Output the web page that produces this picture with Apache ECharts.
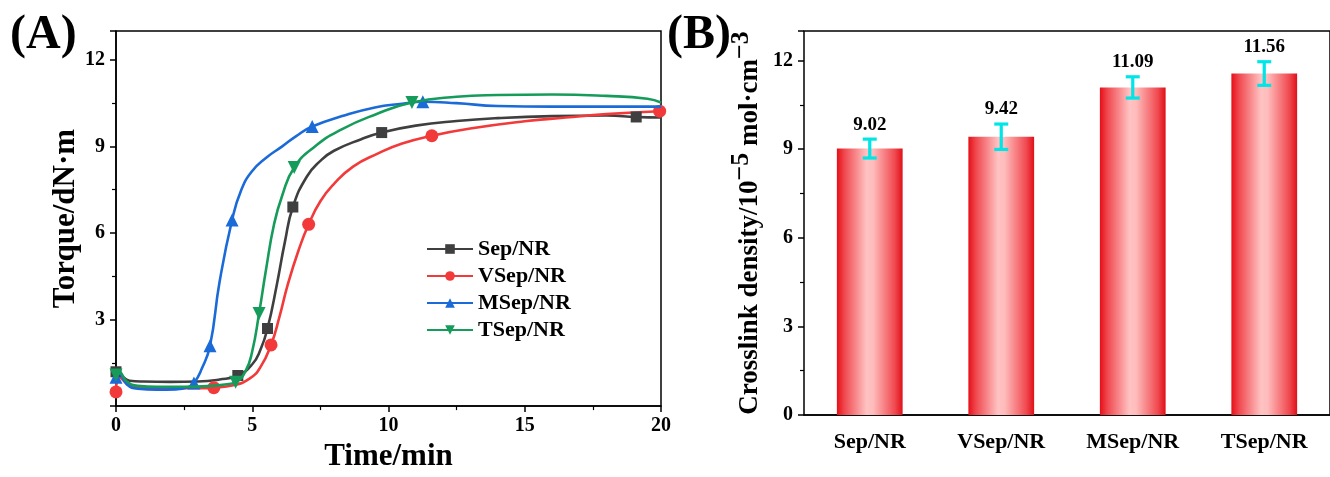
<!DOCTYPE html>
<html><head><meta charset="utf-8">
<script src="https://cdn.jsdelivr.net/npm/echarts@6/dist/echarts.min.js"></script>
<style>html,body{margin:0;padding:0;background:#fff}#c{width:1330px;height:477px}</style>
</head><body><div id="c"></div>
<script>
// ---- Panel A: torque curves ----
const sepX  = [0, 0.15, 0.5, 1, 2, 3, 3.8, 4.47, 5.0, 5.3, 5.56, 5.9, 6.2, 6.49, 7.0, 7.5, 8.0, 9.0, 9.75, 11, 12.5, 14, 16, 18, 19.09, 20];
const sepY  = [1.19, 1.1, 0.88, 0.85, 0.84, 0.85, 0.92, 1.06, 1.45, 1.95, 2.69, 4.2, 5.7, 6.9, 7.95, 8.5, 8.85, 9.25, 9.48, 9.72, 9.88, 9.98, 10.05, 10.07, 10.02, 10.0];
const sepMarks = [0, 7, 10, 13, 18, 24];

const vsepX = [0, 0.12, 0.5, 1, 2, 3, 3.59, 4.3, 4.9, 5.3, 5.69, 6.0, 6.3, 6.7, 7.07, 7.5, 8.0, 8.7, 9.6, 10.5, 11.59, 13, 15, 16.5, 18, 19.95];
const vsepY = [0.49, 1.0, 0.72, 0.63, 0.62, 0.62, 0.64, 0.72, 0.95, 1.35, 2.12, 3.1, 4.2, 5.4, 6.3, 7.1, 7.7, 8.3, 8.75, 9.1, 9.37, 9.62, 9.87, 10.0, 10.12, 10.22];
const vsepMarks = [0, 6, 10, 14, 20, 25];

const msepX = [0, 0.1, 0.4, 0.8, 1.5, 2.2, 2.6, 2.86, 3.15, 3.45, 3.8, 4.26, 4.6, 5.0, 5.5, 6.1, 6.6, 7.2, 8.3, 9.5, 10.5, 11.26, 12.5, 14, 16, 18, 20];
const msepY = [1.0, 1.15, 0.75, 0.6, 0.57, 0.58, 0.64, 0.8, 1.3, 2.09, 4.3, 6.45, 7.5, 8.15, 8.6, 9.0, 9.35, 9.69, 10.05, 10.35, 10.48, 10.55, 10.5, 10.4, 10.38, 10.38, 10.38];
const msepMarks = [0, 7, 9, 11, 17, 21];

const tsepX = [0, 0.1, 0.4, 0.8, 1.5, 2.5, 3.5, 4.0, 4.39, 4.75, 5.0, 5.25, 5.5, 5.8, 6.1, 6.54, 7.3, 8.3, 9.5, 10.86, 12.5, 14, 16, 18, 19.5, 20];
const tsepY = [1.08, 1.2, 0.85, 0.7, 0.67, 0.67, 0.7, 0.75, 0.83, 1.2, 1.9, 3.21, 4.7, 6.3, 7.3, 8.27, 9.0, 9.6, 10.1, 10.52, 10.72, 10.78, 10.8, 10.75, 10.65, 10.52];
const tsepMarks = [0, 8, 11, 15, 19];

const seriesNames = ['Sep/NR', 'VSep/NR', 'MSep/NR', 'TSep/NR'];
const xTickLabels = ['0', '5', '10', '15', '20'];

// ---- Panel B: crosslink density ----
const categories = ['Sep/NR', 'VSep/NR', 'MSep/NR', 'TSep/NR'];
const density    = [9.02, 9.42, 11.09, 11.56];
const densityErr = [0.32, 0.43, 0.36, 0.40];

const FONT = '"Liberation Serif","Times New Roman",serif';
const colors = ['#3f3f3f', '#f23a3a', '#1a6ad8', '#169c5a'];
const symbols = ['rect', 'circle', 'triangle', 'path://M0,0L10,0L5,9Z'];
const symSizes = [11, 13, 13, 13];

function mk(xs, ys) { return xs.map((x, i) => [x, ys[i]]); }
const lineData = [mk(sepX, sepY), mk(vsepX, vsepY), mk(msepX, msepY), mk(tsepX, tsepY)];
const marks = [sepMarks, vsepMarks, msepMarks, tsepMarks];

const lineSeries = lineData.map((d, k) => ({
  name: seriesNames[k], type: 'line', xAxisIndex: 0, yAxisIndex: 0,
  data: d, smooth: true, showAllSymbol: true,
  symbol: symbols[k],
  symbolSize: (v, p) => marks[k].includes(p.dataIndex) ? symSizes[k] : 0,
  lineStyle: { color: colors[k], width: 2.6 },
  itemStyle: { color: colors[k] },
  z: 2 + (k === 1 ? 0 : k)
}));

const chart = echarts.init(document.getElementById('c'), null, { renderer: 'canvas' });
chart.setOption({
  animation: false,
  backgroundColor: '#fff',
  textStyle: { fontFamily: FONT },
  graphic: [
    { type: 'text', left: 10, top: 12, style: { text: '(A)', font: 'bold 48px ' + FONT, fill: '#000' } },
    { type: 'text', left: 667, top: 12, style: { text: '(B)', font: 'bold 48px ' + FONT, fill: '#000' } }
  ],
  legend: {
    data: seriesNames, orient: 'vertical', left: 421, top: 233,
    itemWidth: 46, itemHeight: 12, itemGap: 5,
    textStyle: { fontFamily: FONT, fontWeight: 'bold', fontSize: 22, color: '#000' }
  },
  grid: [
    { left: 116, top: 31, width: 545, height: 385, show: true, borderColor: '#000', borderWidth: 1.5, containLabel: false },
    { left: 804, top: 31, width: 533, height: 384, show: true, borderColor: '#000', borderWidth: 1.5, containLabel: false }
  ],
  xAxis: [
    {
      gridIndex: 0, type: 'value', min: 0, max: 20, interval: 5,
      name: 'Time/min', nameLocation: 'middle', nameGap: 30,
      nameTextStyle: { fontFamily: FONT, fontWeight: 'bold', fontSize: 31, color: '#000' },
      axisLine: { lineStyle: { color: '#000', width: 1.5 } },
      axisTick: { show: true, length: 6, lineStyle: { color: '#000', width: 1.5 } },
      minorTick: { show: true, splitNumber: 2, length: 4, lineStyle: { color: '#000', width: 1.2 } },
      splitLine: { show: false },
      axisLabel: { margin: 10, fontFamily: FONT, fontWeight: 'bold', fontSize: 20, color: '#000',
        formatter: v => xTickLabels[Math.round(v / 5)] }
    },
    {
      gridIndex: 1, type: 'category', data: categories,
      axisLine: { lineStyle: { color: '#000', width: 1.5 } },
      axisTick: { show: false },
      axisLabel: { margin: 16, fontFamily: FONT, fontWeight: 'bold', fontSize: 22, color: '#000' }
    }
  ],
  yAxis: [
    {
      gridIndex: 0, type: 'value', min: 0, max: 13, interval: 3,
      name: 'Torque/dN·m', nameLocation: 'middle', nameGap: 35,
      nameTextStyle: { fontFamily: FONT, fontWeight: 'bold', fontSize: 31, color: '#000' },
      axisLine: { lineStyle: { color: '#000', width: 1.5 } },
      axisTick: { show: true, length: 6, lineStyle: { color: '#000', width: 1.5 } },
      minorTick: { show: true, splitNumber: 2, length: 4, lineStyle: { color: '#000', width: 1.2 } },
      splitLine: { show: false },
      axisLabel: { margin: 11, fontFamily: FONT, fontWeight: 'bold', fontSize: 20, color: '#000',
        showMaxLabel: false, formatter: v => (v === 0 ? '' : String(v)) }
    },
    {
      gridIndex: 1, type: 'value', min: 0, max: 13, interval: 3,
      name: '{b|Crosslink density/10}{s|−5}{b| mol·cm}{s|−3}', nameLocation: 'middle', nameGap: 40,
      nameTextStyle: {
        fontFamily: FONT, fontWeight: 'bold', fontSize: 27, color: '#000',
        rich: {
          b: { fontFamily: FONT, fontWeight: 'bold', fontSize: 27, color: '#000', verticalAlign: 'bottom' },
          s: { fontFamily: FONT, fontWeight: 'bold', fontSize: 26, color: '#000', verticalAlign: 'bottom', padding: [0, 0, 10, 0] }
        }
      },
      axisLine: { lineStyle: { color: '#000', width: 1.5 } },
      axisTick: { show: true, length: 6, lineStyle: { color: '#000', width: 1.5 } },
      minorTick: { show: true, splitNumber: 2, length: 4, lineStyle: { color: '#000', width: 1.2 } },
      splitLine: { show: false },
      axisLabel: { margin: 11, fontFamily: FONT, fontWeight: 'bold', fontSize: 20, color: '#000', showMaxLabel: false }
    }
  ],
  series: lineSeries.concat([
    {
      type: 'bar', xAxisIndex: 1, yAxisIndex: 1, data: density, barWidth: '50%',
      itemStyle: {
        color: new echarts.graphic.LinearGradient(0, 0, 1, 0, [
          { offset: 0, color: '#e60f18' },
          { offset: 0.12, color: '#f04a50' },
          { offset: 0.45, color: '#ffc2c2' },
          { offset: 0.55, color: '#ffbcbc' },
          { offset: 0.88, color: '#f04a50' },
          { offset: 1, color: '#e01018' }
        ])
      },
      z: 2
    },
    {
      type: 'custom', xAxisIndex: 1, yAxisIndex: 1,
      data: density.map((v, i) => [i, v - densityErr[i], v + densityErr[i], v]),
      renderItem: (params, api) => {
        const i = api.value(0);
        const lo = api.coord([i, api.value(1)]);
        const hi = api.coord([i, api.value(2)]);
        const w = 7;
        const st = { stroke: '#00e6e6', lineWidth: 3.2 };
        return {
          type: 'group',
          children: [
            { type: 'line', shape: { x1: lo[0], y1: lo[1], x2: hi[0], y2: hi[1] }, style: st },
            { type: 'line', shape: { x1: lo[0] - w, y1: lo[1], x2: lo[0] + w, y2: lo[1] }, style: st },
            { type: 'line', shape: { x1: hi[0] - w, y1: hi[1], x2: hi[0] + w, y2: hi[1] }, style: st },
            { type: 'text', x: hi[0], y: hi[1] - 5,
              style: { text: api.value(3).toFixed(2), font: 'bold 19px ' + FONT, fill: '#000', align: 'center', verticalAlign: 'bottom' } }
          ]
        };
      },
      z: 5
    }
  ])
});
</script>
</body></html>
